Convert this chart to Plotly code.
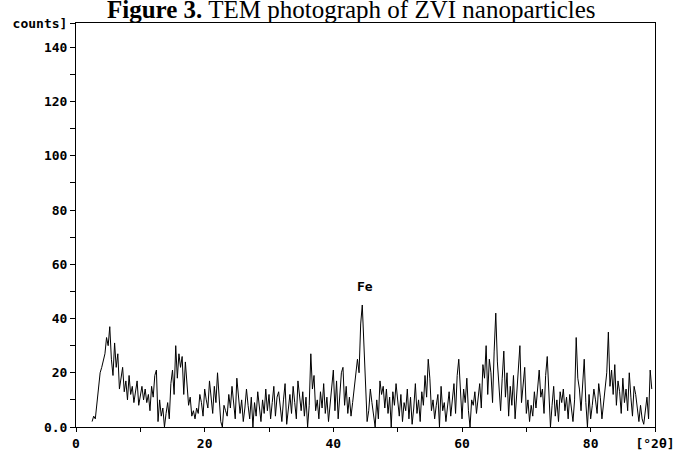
import plotly.graph_objects as go

# XRD pattern of ZVI nanoparticles, 2-theta from 2.5 deg in 0.25 deg steps
two_theta_start = 2.5
two_theta_step = 0.25
counts = [
    2, 4, 3, 8,
    14, 20, 22, 25,
    27, 33, 30, 37,
    25, 19, 31, 22,
    27, 14, 18, 22,
    13, 17, 10, 19,
    12, 15, 9, 13,
    17, 8, 12, 15,
    10, 14, 9, 12,
    6, 15, 11, 19,
    21, 2, 10, 4,
    7, 0, 5, 9,
    3, 16, 21, 12,
    30, 18, 27, 22,
    26, 12, 24, 16,
    8, 11, 4, 6,
    3, 7, 5, 12,
    9, 4, 14, 10,
    7, 17, 11, 5,
    15, 9, 20, 12,
    2, 0, 8, 6,
    4, 12, 7, 15,
    9, 3, 18, 11,
    5, 10, 2, 7,
    14, 8, 3, 11,
    0, 9, 4, 13,
    7, 2, 10, 5,
    14, 6, 12, 3,
    9, 15, 4, 11,
    13, 6, 2, 10,
    16, 1, 8, 12,
    5, 15, 9, 3,
    17, 10, 6, 13,
    4, 11, 0, 8,
    27, 14, 19, 6,
    10, 3, 13, 7,
    16, 5, 11, 2,
    9, 14, 21, 6,
    17, 3, 12, 20,
    22, 8, 15, 5,
    11, 4, 9, 14,
    18, 25, 20, 38,
    45, 30, 12, 2,
    6, 14, 9, 4,
    0, 10, 3, 17,
    12, 15, 7, 14,
    5, 11, 0, 13,
    8, 16, 10, 4,
    12, 2, 9, 6,
    14, 3, 11, 1,
    7, 16, 5, 10,
    2, 13, 8, 19,
    11, 25, 18, 6,
    10, 3, 8, 12,
    0, 15, 6, 9,
    2, 7, 13, 4,
    11, 16, 5, 19,
    25, 12, 3, 14,
    9, 18, 6, 0,
    10, 8, 13, 5,
    12, 16, 7, 23,
    18, 30, 12, 25,
    20, 9, 28, 42,
    24, 15, 6, 18,
    28, 11, 20, 4,
    15, 8, 19, 3,
    12, 21, 30, 9,
    16, 22, 5, 10,
    2, 8, 4, 13,
    7, 16, 21, 11,
    14, 5, 19, 26,
    12, 0, 8, 15,
    4, 10, 2, 13,
    9, 14, 6, 11,
    3, 12, 7, 2,
    10, 33, 18, 14,
    6, 17, 25, 9,
    0, 12, 3, 8,
    14, 10, 5, 16,
    11, 3, 9, 13,
    20, 35, 15, 21,
    12, 23, 8, 17,
    13, 5, 18, 9,
    14, 6, 20, 11,
    4, 15, 12, 7,
    2, 8, 3, 1,
    6, 11, 3, 21,
    14,
]

x_tick_vals = [0, 10, 20, 30, 40, 50, 60, 70, 80, 90]
x_tick_text = ["0", "", "20", "", "40", "", "60", "", "80", "[°2θ]"]
y_tick_vals = [0, 10, 20, 30, 40, 50, 60, 70, 80, 90, 100, 110, 120, 130, 140, 149]
y_tick_text = ["0.0", "", "20", "", "40", "", "60", "", "80", "", "100", "", "120", "", "140", "counts]"]

peak_label = "Fe"
peak_pos = (44.9, 51.8)
title_text = "<b>Figure 3.</b> TEM photograph of ZVI nanoparticles"

mono = dict(family="DejaVu Sans Mono", size=13, color="black", weight="bold")

fig = go.Figure()
fig.add_trace(go.Scatter(
    x0=two_theta_start, dx=two_theta_step, y=counts,
    mode="lines", line=dict(color="black", width=1),
    showlegend=False, hoverinfo="skip",
))

fig.add_annotation(
    x=peak_pos[0], y=peak_pos[1], text=peak_label, showarrow=False,
    font=mono, xref="x", yref="y",
)
fig.add_annotation(
    x=0.05, y=0.996, xref="paper", yref="paper", xanchor="left", yanchor="bottom",
    text=title_text, showarrow=False,
    font=dict(family="Liberation Serif", size=25, color="black"),
)

fig.update_layout(
    width=677, height=451,
    margin=dict(l=76, r=22, t=23, b=24, pad=0),
    paper_bgcolor="white", plot_bgcolor="white",
    template="none",
    showlegend=False,
)
fig.update_xaxes(
    range=[0, 90], tickmode="array", tickvals=x_tick_vals, ticktext=x_tick_text,
    ticks="outside", ticklen=4, tickwidth=1, tickcolor="black",
    showline=True, linecolor="black", linewidth=1, mirror=True,
    showgrid=False, zeroline=False, automargin=False,
    tickfont=mono, tickangle=0,
)
fig.update_yaxes(
    range=[0, 149], tickmode="array", tickvals=y_tick_vals, ticktext=y_tick_text,
    ticks="outside", ticklen=5, tickwidth=1, tickcolor="black",
    showline=True, linecolor="black", linewidth=1, mirror=True,
    showgrid=False, zeroline=False, automargin=False,
    tickfont=mono,
)

fig.write_html("out.html")
